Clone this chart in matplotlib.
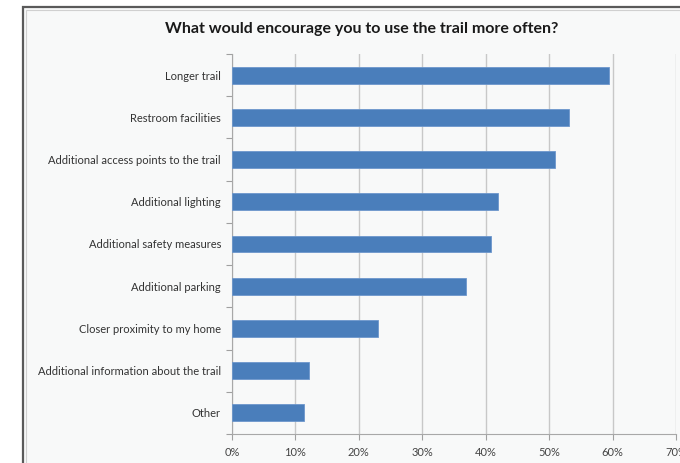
import matplotlib
matplotlib.use("Agg")
import matplotlib.pyplot as plt
from matplotlib.patches import Rectangle
from matplotlib.ticker import FuncFormatter, MultipleLocator

categories = [
    "Longer trail",
    "Restroom facilities",
    "Additional access points to the trail",
    "Additional lighting",
    "Additional safety measures",
    "Additional parking",
    "Closer proximity to my home",
    "Additional information about the trail",
    "Other",
]
shares = [59.5, 53.1, 50.9, 42.0, 40.8, 36.9, 23.0, 12.1, 11.3]
title = "What would encourage you to use the trail more often?"

W, H = 680, 463
fig = plt.figure(figsize=(W / 100, H / 100), dpi=100)
fig.patch.set_facecolor("white")

# chart panel with a dark outer border and a thin light inner border
fig.patches.append(Rectangle((23 / W, -0.1), 1.2, (H - 7) / H + 0.1,
                             transform=fig.transFigure, facecolor="#f8f9f9",
                             edgecolor="#5a5a5a", linewidth=1.6, zorder=-10))
fig.patches.append(Rectangle((26 / W, -0.1), 1.2, (H - 10) / H + 0.1,
                             transform=fig.transFigure, facecolor="none",
                             edgecolor="#d0d0d0", linewidth=0.8, zorder=-9))

ax = fig.add_axes([232 / W, 29 / H, 444 / W, 380 / H])
ax.set_facecolor("none")
ax.set_zorder(5)

n = len(categories)
ypos = list(range(n))
ax.barh(ypos, shares, height=0.4, color="#4a7ebb", edgecolor="#6d97cc",
        linewidth=0.6, zorder=3)
ax.set_ylim(n - 0.5, -0.5)
ax.set_xlim(0, 70)

ax.set_yticks(ypos)
ax.set_yticklabels(categories)
ax.set_yticks([i - 0.5 for i in range(n + 1)], minor=True)
ax.tick_params(axis="y", which="major", length=0, pad=8, labelsize=8,
               labelcolor="#333333")
ax.tick_params(axis="y", which="minor", length=4, color="#a0a0a0", width=0.8)

ax.xaxis.set_major_locator(MultipleLocator(10))
ax.xaxis.set_major_formatter(FuncFormatter(lambda v, p: f"{int(round(v))}%"))
ax.tick_params(axis="x", length=4, color="#a0a0a0", width=0.8, labelsize=8,
               labelcolor="#444444", pad=5)

ax.grid(axis="x", color="#c8c8c8", linewidth=1.0, zorder=1)
for side in ("top", "right"):
    ax.spines[side].set_visible(False)
for side in ("left", "bottom"):
    ax.spines[side].set_color("#a8a8a8")
    ax.spines[side].set_linewidth(0.8)

for lbl in ax.get_yticklabels() + ax.get_xticklabels():
    lbl.set_fontfamily("Lato")

fig.text(362 / W, 1 - 29 / H, title, ha="center", va="center",
         fontsize=11.5, fontweight="bold", family="Lato", color="#1a1a1a")

fig.savefig("out.png", dpi=100, facecolor="white")
